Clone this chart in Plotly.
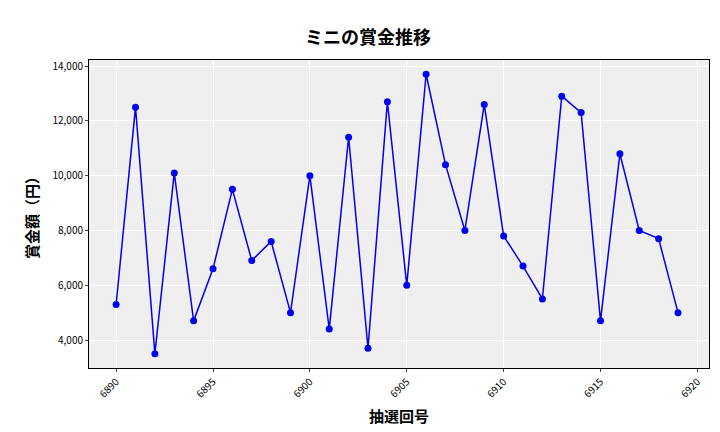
import plotly.graph_objects as go

draws = list(range(6890, 6920))
prizes = [5300, 12500, 3500, 10100, 4700, 6600, 9500, 6900, 7600, 5000,
          10000, 4400, 11400, 3700, 12700, 6000, 13700, 10400, 8000, 12600,
          7800, 6700, 5500, 12900, 12300, 4700, 10800, 8000, 7700, 5000]

font = "Noto Sans CJK JP"
fig = go.Figure(go.Scatter(x=draws, y=prizes, mode="lines+markers",
                           line=dict(color="#0000ee", width=1.5),
                           marker=dict(color="#0000ee", size=7)))
fig.update_layout(
    width=720, height=432, margin=dict(l=81, r=19, t=52, b=72, autoexpand=False),
    paper_bgcolor="white", plot_bgcolor="#efefef", showlegend=False,
    font=dict(family=font, color="black"),
    title=dict(text="<b>ミニの賞金推移</b>", x=0.5, xanchor="center", y=0.945, font=dict(size=18)),
)
fig.update_xaxes(range=[6888.6, 6920.6], tickvals=[6890, 6895, 6900, 6905, 6910, 6915, 6920],
                 tickangle=-45, tickfont=dict(size=10), gridcolor="white", showline=True,
                 linecolor="black", mirror=True, ticks="outside", ticklen=3, automargin=False,
                 title=dict(text="<b>抽選回号</b>", font=dict(size=15), standoff=12))
fig.update_yaxes(range=[2980, 14220], tickvals=[4000, 6000, 8000, 10000, 12000, 14000],
                 tickformat=",", tickfont=dict(size=10), gridcolor="white", showline=True,
                 linecolor="black", mirror=True, ticks="outside", ticklen=3, automargin=False,
                 title=dict(text="<b>賞金額（円）</b>", font=dict(size=15), standoff=10))
fig.write_html("out.html")
